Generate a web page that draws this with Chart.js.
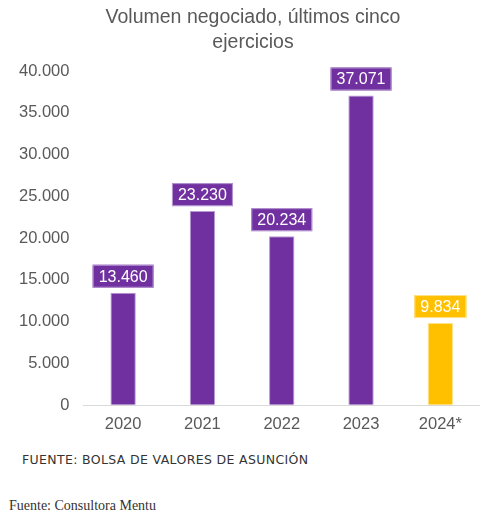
<!DOCTYPE html>
<html>
<head>
<meta charset="utf-8">
<script src="https://cdn.jsdelivr.net/npm/chart.js@4"></script>
<style>
  html, body { margin:0; padding:0; background:#fff; width:491px; height:519px; overflow:hidden; }
  #wrap { position:absolute; left:0; top:0; width:491px; height:443px; }
  .title { position:absolute; left:53px; width:400px; top:4px; text-align:center; font-family:"Liberation Sans", Arial, sans-serif; font-size:19.5px; line-height:25px; color:#595959; }
  .f1 { position:absolute; left:22px; top:452px; font-family:"DejaVu Sans", sans-serif; font-size:12.5px; color:#333; letter-spacing:0.35px; }
  .f2 { position:absolute; left:9px; top:498px; font-family:"Liberation Serif", serif; font-size:14px; color:#333; }
</style>
</head>
<body>
<div id="wrap"><canvas id="c"></canvas></div>
<div class="title" id="title"></div>
<div class="f1">FUENTE: BOLSA DE VALORES DE ASUNCIÓN</div>
<div class="f2">Fuente: Consultora Mentu</div>
<script>
const categories = ["2020", "2021", "2022", "2023", "2024*"];
const volumes = [13460, 23230, 20234, 37071, 9834];
const barColors = ["#7030A0", "#7030A0", "#7030A0", "#7030A0", "#FFC000"];
const barBorders = ["#b89ad3", "#b89ad3", "#b89ad3", "#b89ad3", "#ffe28f"];
const titleLines = ["Volumen negociado, últimos cinco", "ejercicios"];

document.getElementById("title").innerHTML = titleLines.join("<br>");

function fmt(v) {
  return v.toString().replace(/\B(?=(\d{3})+(?!\d))/g, ".");
}

const labelBoxes = {
  id: "labelBoxes",
  afterDatasetsDraw(chart) {
    const ctx = chart.ctx;
    const meta = chart.getDatasetMeta(0);
    ctx.save();
    ctx.font = "16px 'Liberation Sans', Arial, sans-serif";
    ctx.textAlign = "center";
    ctx.textBaseline = "middle";
    meta.data.forEach((bar, i) => {
      const txt = fmt(volumes[i]);
      const w = ctx.measureText(txt).width + 12;
      const h = 23;
      const x = bar.x - w / 2;
      const y = bar.y - 5 - h;
      ctx.fillStyle = barColors[i];
      ctx.fillRect(x, y, w, h);
      ctx.strokeStyle = barBorders[i];
      ctx.lineWidth = 1;
      ctx.strokeRect(x + 0.5, y + 0.5, w - 1, h - 1);
      ctx.fillStyle = "#ffffff";
      ctx.fillText(txt, bar.x, y + h / 2 + 1);
    });
    ctx.restore();
  }
};

new Chart(document.getElementById("c"), {
  type: "bar",
  data: {
    labels: categories,
    datasets: [{
      data: volumes,
      backgroundColor: barColors,
      borderColor: barBorders,
      borderWidth: 1,
      categoryPercentage: 1.0,
      barPercentage: 0.32
    }]
  },
  options: {
    responsive: true,
    maintainAspectRatio: false,
    animation: false,
    layout: { padding: { left: 5, right: 11, top: 71, bottom: 8 } },
    plugins: {
      legend: { display: false },
      tooltip: { enabled: false },
      title: { display: false }
    },
    scales: {
      x: {
        grid: { display: false },
        border: { display: false },
        ticks: {
          color: "#595959",
          padding: 1,
          font: { family: "'Liberation Sans', Arial, sans-serif", size: 16.5 }
        }
      },
      y: {
        min: 0,
        max: 40000,
        border: { display: false },
        grid: {
          drawTicks: false,
          color: (c) => (c.tick && c.tick.value === 0 ? "#d9d9d9" : "rgba(0,0,0,0)"),
          lineWidth: 1
        },
        ticks: {
          stepSize: 5000,
          color: "#595959",
          padding: 14,
          font: { family: "'Liberation Sans', Arial, sans-serif", size: 16.5 },
          callback: (v) => fmt(v)
        }
      }
    }
  },
  plugins: [labelBoxes]
});
</script>
</body>
</html>
